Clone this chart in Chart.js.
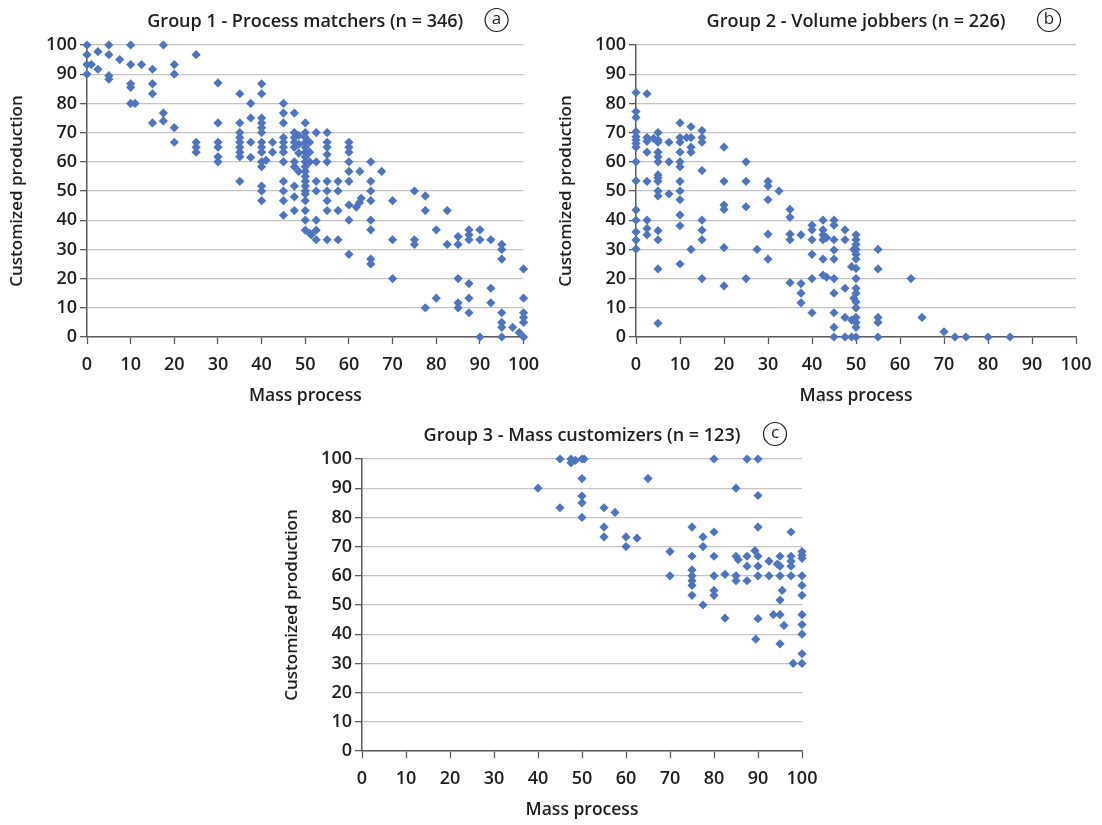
<!DOCTYPE html>
<html>
<head>
<meta charset="utf-8">
<script src="https://cdn.jsdelivr.net/npm/chart.js@4.4.1/dist/chart.umd.min.js"></script>
<style>
  body { margin: 0; background: #fff; width: 1102px; height: 825px; overflow: hidden; position: relative; }
  .panel { position: absolute; }
</style>
</head>
<body>
<div class="panel" style="left:0;top:0;width:549px;height:409px"><canvas id="chart1"></canvas></div>
<div class="panel" style="left:549px;top:0;width:553px;height:409px"><canvas id="chart2"></canvas></div>
<div class="panel" style="left:275px;top:415px;width:560px;height:408px"><canvas id="chart3"></canvas></div>
<script>
// axis labels + panel titles
const xLabel = 'Mass process';
const yLabel = 'Customized production';
const panelTitles = [
    'Group 1 - Process matchers (n = 346)',
    'Group 2 - Volume jobbers (n = 226)',
    'Group 3 - Mass customizers (n = 123)'
];
const panelLetters = ['a', 'b', 'c'];
const tickMin = 0, tickMax = 100, tickStep = 10;

// [mass process, customized production]
const group1Points = [
    [0,100],[0,96.7],[0,93.3],[1,93.3],[0,90],[2.5,97.7],[2.5,91.7],
    [5,100],[5,96.7],[5,89.5],[5,88.3],[7.5,95],
    [10,100],[10,93.3],[10,86.7],[10,85.5],[10,80],[11,80],[12.5,93.3],
    [15,91.7],[15,86.7],[15,83.3],[15,73.3],[17.5,100],[17.5,76.7],[17.5,74],
    [20,93.3],[20,90],[20,71.7],[20,66.7],
    [25,96.7],[25,66.7],[25,65],[25,63.3],
    [30,87],[30,73.3],[30,66.7],[30,65],[30,61.7],[30,60],
    [35,83.3],[35,73.3],[35,70],[35,68.3],[35,66.7],[35,65],[35,63.3],[35,61.7],[35,53.3],
    [37.5,80],[37.5,75],[37.5,66.7],[37.5,61.5],
    [40,86.7],[40,83.3],[40,75],[40,73.3],[40,71.7],[40,70],[40,66.7],[40,65],[40,63.3],[40,60],[40,58.3],[40,51.7],[40,50],[40,46.7],[41,60.5],
    [42.5,66.7],[42.5,63.3],
    [45,80],[45,76.7],[45,73.3],[45,68.3],[45,66.7],[45,65],[45,63.3],[45,60],[45,53.3],[45,50],[45,46.7],[45,41.7],
    [47.5,76.7],[47.5,70],[47.5,68.3],[47.5,66.7],[47.5,65],[47.5,60],[47.5,58.3],[47.5,51.7],[47.5,48],[47.5,43.3],
    [48.5,69],[48.5,66],[48.5,63],[48.5,56.7],
    [50,73.3],[50,70],[50,68.3],[50,66.7],[50,65],[50,63.3],[50,61.7],[50,60],[50,58.3],[50,56.7],[50,55],[50,53.3],[50,51.7],[50,50],[50,49],[50,46.7],[50,43.3],[50,40],[50,36.6],
    [51,66.7],[51,63.3],[51,60],[51,35.5],[51.4,35],
    [52.5,70],[52.5,60],[52.5,53.3],[52.5,50],[52.5,40],[52.5,36.6],[52.5,33.3],
    [55,70],[55,66.7],[55,65],[55,62.5],[55,60],[55,53.3],[55,50],[55,46.7],[55,43.3],[55,33.3],
    [57.5,53.3],[57.5,50],[57.5,43.3],[57.5,33.3],
    [60,66.7],[60,65],[60,63.3],[60,60],[60,56.7],[60,53.3],[60,45.2],[60,40],[60,28.3],
    [61.7,44.5],[62.5,56.7],[62.4,46],[62.8,47.5],
    [65,60],[65,53.3],[65,50],[65,46.7],[65,40],[65,36.7],[65,26.7],[65,25],[67.5,56.7],
    [70,46.7],[70,33.3],[70,20],
    [75,50],[75,33.3],[75,31.7],
    [77.5,48.3],[77.5,43.3],[77.5,10],
    [80,36.7],[80,13.3],[82.5,43.3],[82.5,31.7],
    [85,34.4],[85,31.7],[85,20],[85,11.7],[85,10],
    [87.5,36.7],[87.5,35],[87.5,33.3],[87.5,18.3],[87.5,13.3],[87.5,8.3],
    [90,36.7],[90,33.3],[90,0],
    [92.5,33.3],[92.5,16.7],[92.5,11.7],
    [95,31.7],[95,30],[95,26.7],[95,8.3],[95,5],[95,3.3],[95,0],
    [97.5,3.3],[99,1.5],
    [100,23.3],[100,13.3],[100,8.3],[100,6.7],[100,5],[100,0]
];

const group2Points = [
    [0,83.7],[0,77.2],[0,75.2],[0,70.3],[0,68.6],[0,67.5],[0,66.3],[0,65],[0,60],[0,53.5],[0,43.5],[0,40],[0,36],[0,33.2],[0,30.1],
    [2.5,83.3],[2.5,68.3],[2.5,67],[2.5,63.3],[2.5,53.3],[2.5,40],[2.5,37.2],[2.5,35],[4,68],
    [5,70],[5,67.5],[5,66.7],[5,63.3],[5,61.7],[5,60],[5,55.5],[5,54.5],[5,53.3],[5,50],[5,48.3],[5,36.4],[5,33.3],[5,23.3],[5,4.7],
    [7.5,66.7],[7.5,60],[7.5,49],
    [10,73.3],[10,68.3],[10,66.7],[10,63.3],[10,60],[10,58.3],[10,53.3],[10,50],[10,47],[10,41.8],[10,38.1],[10,25],
    [11.5,68.3],[12.5,72],[12.5,68.3],[12.5,65],[12.5,63.3],[12.5,30],
    [15,70.7],[15,68.3],[15,66.7],[15,57],[15,40],[15,36.6],[15,33.3],[15,20],
    [20,65],[20,53.3],[20,45.2],[20,43.7],[20,30.6],[20,17.5],
    [25,60],[25,53.3],[25,44.6],[25,20],[27.5,30],
    [30,53.3],[30,51.7],[30,47],[30,35.2],[30,26.7],[32.5,50],
    [35,43.7],[35,41],[35,35.2],[35,33.3],[35,18.6],
    [37.5,35],[37.5,18.3],[37.5,15],[37.5,11.7],
    [40,38.3],[40,36.7],[40,33.3],[40,28.3],[40,20],[40,8.3],
    [42.5,40],[42.5,36.7],[42.5,35],[42.5,33.3],[42.5,26.7],[42.5,21.2],[43.3,34],[43.3,20.5],
    [45,40],[45,38.3],[45,33.3],[45,29.8],[45,26.7],[45,20],[45,15],[45,8.3],[45,3.3],[45,0],
    [47.5,36.7],[47.5,33.3],[47.5,16.7],[47.5,6.7],[47.5,0],
    [49,24.1],[49,5.8],[49,0],[49.5,30],[49.5,13.3],
    [50,35],[50,33.3],[50,31.7],[50,30],[50,28.3],[50,26.7],[50,23.5],[50,20],[50,16.7],[50,15],[50,12],[50,10],[50,6.7],[50,5],[50,3.3],[50,0],
    [55,30],[55,23.3],[55,6.7],[55,5],[55,0],
    [62.5,20],[65,6.7],[70,1.8],[72.5,0],[75,0],[80,0],[85,0]
];

const group3Points = [
    [40,90],[45,100],[45,83.3],[47.5,100],[47.5,98.7],[48.5,99.5],[50,100],[50.5,100],[50,93.3],[50,87.3],[50,85],[50,80],
    [55,83.3],[55,76.7],[55,73.3],[57.5,81.7],[60,73.3],[60,70],[62.5,72.9],[65,93.3],
    [70,68.3],[70,60],
    [75,76.7],[75,66.7],[75,62],[75,60],[75,58.3],[75,56.7],[75,53.3],
    [77.5,73.3],[77.5,70],[77.5,50],
    [80,100],[80,75],[80,66.7],[80,60],[80,55],[80,53.3],[82.5,60.5],[82.5,45.5],
    [85,90],[85,66.7],[85.5,65.5],[85,60],[85,58.3],
    [87.5,100],[87.5,66.7],[87.5,63.3],[87.5,58.3],[89.3,68.6],
    [90,100],[90,87.5],[90,76.7],[90,66.7],[90,63.3],[90,60],[90,45.3],[89.5,38.3],
    [92.5,65],[92.5,60],[93.5,46.7],[94.4,64],
    [95,66.7],[95,63.3],[95,60],[95.5,55],[95,51.7],[95,46.7],[95.9,43],[95,36.7],
    [97.5,75],[97.5,66.7],[97.5,65],[97.5,63.3],[97.5,60],[98,30],
    [100,68.3],[100,67],[100,66],[100,60],[100,56.7],[100,53.3],[100,46.7],[100,43.3],[100,40],[100,33.3],[100,30]
];

const TXT = '#1e1e1e';
const AXIS = '#5a5a5a';
const GRID = '#c4c4c4';
const MARK = '#4f74bf';
const FONT = "'Open Sans', sans-serif";

// title + circled letter above each plot area
const panelTitle = {
    id: 'panelTitle',
    afterDraw(chart, args, opts) {
        const { ctx, chartArea: a } = chart;
        ctx.save();
        ctx.fillStyle = TXT;
        ctx.textAlign = 'center';
        ctx.textBaseline = 'middle';
        ctx.font = '600 18px ' + FONT;
        ctx.fillText(opts.text, (a.left + a.right) / 2, a.top - 23);
        const cx = a.right - 27, cy = a.top - 25;
        ctx.beginPath();
        ctx.arc(cx, cy, 11.5, 0, Math.PI * 2);
        ctx.lineWidth = 1.2;
        ctx.strokeStyle = TXT;
        ctx.stroke();
        ctx.font = '500 17px ' + FONT;
        ctx.fillText(opts.letter, cx, cy - 1);
        ctx.restore();
    }
};

function makeChart(id, points, idx) {
    const ctx = document.getElementById(id).getContext('2d');
    return new Chart(ctx, {
        type: 'scatter',
        data: {
            datasets: [{
                data: points.map(p => ({ x: p[0], y: p[1] })),
                pointStyle: 'rectRot',
                pointRadius: 4.6,
                pointBorderWidth: 0,
                backgroundColor: MARK,
                borderColor: MARK,
                clip: false
            }]
        },
        options: {
            responsive: true,
            maintainAspectRatio: false,
            animation: false,
            layout: { padding: { top: idx === 2 ? 44 : 45, right: idx === 1 ? 26 : (idx === 0 ? 22 : 33), left: 0, bottom: 0 } },
            scales: {
                x: {
                    type: 'linear',
                    min: tickMin, max: tickMax,
                    afterFit: s => { s.height = 72; },
                    ticks: { stepSize: tickStep, color: TXT, padding: 10, font: { family: FONT, size: 18, weight: '600' } },
                    grid: { drawOnChartArea: false, drawTicks: true, tickLength: 7, tickColor: AXIS, tickWidth: 1.3 },
                    border: { color: AXIS, width: 1.5 },
                    title: { display: true, text: xLabel, color: TXT, padding: { top: 2, bottom: 2 }, font: { family: FONT, size: 17.5, weight: '600' } }
                },
                y: {
                    type: 'linear',
                    min: tickMin, max: tickMax,
                    afterFit: s => { s.width = 87; },
                    ticks: { stepSize: tickStep, color: TXT, padding: 3, font: { family: FONT, size: 18, weight: '600' } },
                    grid: { color: GRID, lineWidth: 1.3, drawTicks: true, tickLength: 7, tickColor: AXIS, tickWidth: 1.3 },
                    border: { color: AXIS, width: 1.5 },
                    title: { display: true, text: yLabel, color: TXT, padding: { top: 7, bottom: 7 }, font: { family: FONT, size: 17, weight: '600' } }
                }
            },
            plugins: {
                legend: { display: false },
                tooltip: { enabled: false },
                panelTitle: { text: panelTitles[idx], letter: panelLetters[idx] }
            }
        },
        plugins: [panelTitle]
    });
}

makeChart('chart1', group1Points, 0);
makeChart('chart2', group2Points, 1);
makeChart('chart3', group3Points, 2);
</script>
</body>
</html>
